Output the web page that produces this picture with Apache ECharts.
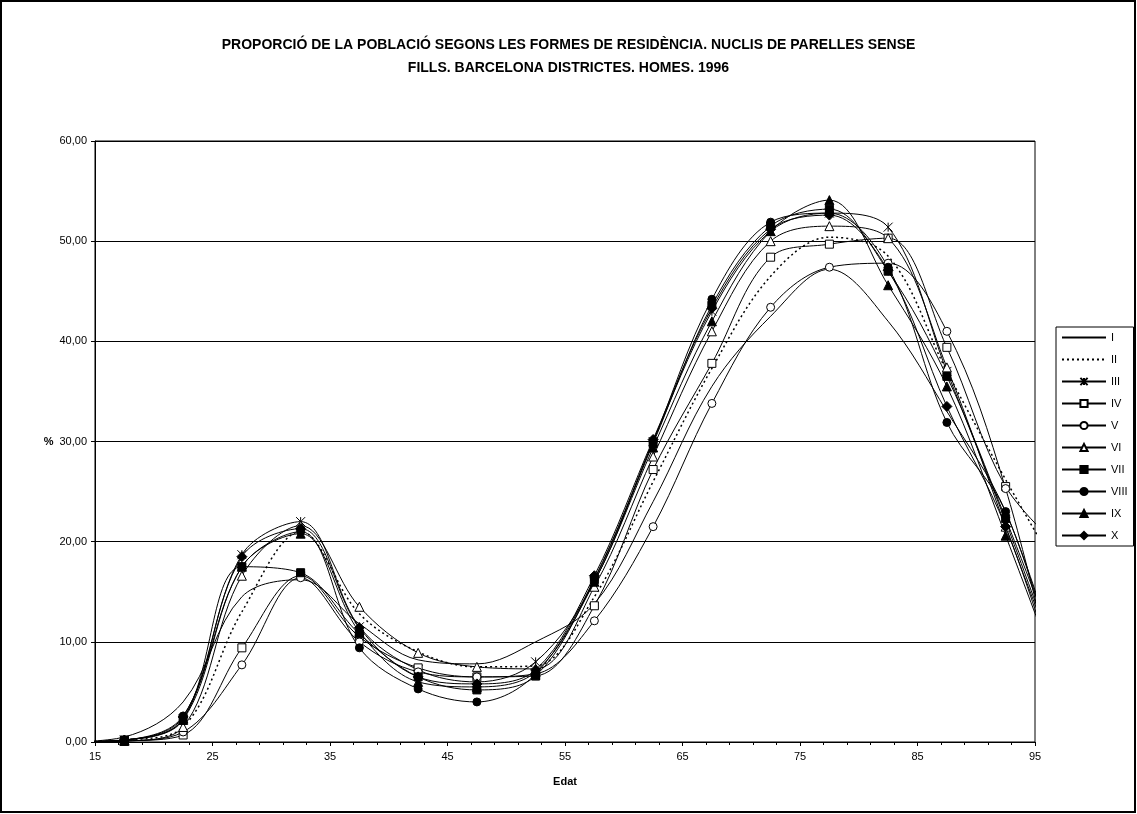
<!DOCTYPE html>
<html>
<head>
<meta charset="utf-8">
<script src="https://cdn.jsdelivr.net/npm/echarts@6/dist/echarts.min.js"></script>
<style>
  html, body { margin: 0; padding: 0; background: #fff; }
  #chart { width: 1137px; height: 814px; }
</style>
</head>
<body>
<div id="chart"></div>
<script>
// edat (punt central del grup quinquennal)
const ages = [12.5, 17.5, 22.5, 27.5, 32.5, 37.5, 42.5, 47.5, 52.5, 57.5, 62.5, 67.5, 72.5, 77.5, 82.5, 87.5, 92.5, 97.5]

const distI    = [0, 0.5, 4.0, 14.5, 16.2, 11.8, 8.2, 7.8, 10.0, 13.8, 24.0, 35.5, 42.5, 47.2, 42.0, 33.0, 23.0, 6]
const distII   = [0, 0.2, 1.5, 13.0, 21.0, 12.8, 9.0, 7.5, 7.6, 14.5, 26.0, 37.3, 46.5, 50.4, 48.5, 37.0, 26.2, 16]
const distIII  = [0, 0.2, 2.3, 18.7, 22.0, 11.5, 7.2, 6.0, 8.0, 16.0, 30.0, 43.0, 51.0, 52.8, 51.4, 37.0, 22.0, 6]
const distIV   = [0, 0.1, 0.7, 9.4, 16.6, 10.5, 7.4, 6.5, 6.6, 13.6, 27.2, 37.8, 48.4, 49.7, 50.3, 39.4, 25.5, 19]
const distV    = [0, 0.1, 1.0, 7.7, 16.4, 10.0, 7.0, 6.5, 6.8, 12.1, 21.5, 33.8, 43.4, 47.4, 47.8, 41.0, 25.3, 2]
const distVI   = [0, 0.1, 1.5, 16.6, 21.6, 13.5, 8.9, 7.5, 7.3, 15.5, 28.5, 41.0, 50.0, 51.5, 50.3, 37.4, 21.5, 6]
const distVII  = [0, 0.2, 2.3, 17.5, 16.9, 10.8, 6.5, 5.2, 6.6, 16.2, 29.8, 43.6, 51.5, 53.2, 47.0, 36.5, 22.3, 7]
const distVIII = [0, 0.2, 2.6, 17.5, 21.0, 9.4, 5.3, 4.0, 6.8, 16.3, 30.0, 44.2, 51.9, 52.8, 47.4, 31.9, 23.0, 5]
const distIX   = [0, 0.2, 2.2, 17.5, 20.8, 11.0, 6.0, 5.5, 7.0, 16.0, 29.4, 42.0, 51.0, 54.1, 45.6, 35.5, 20.6, 5]
const distX    = [0, 0.2, 2.5, 18.5, 21.3, 11.4, 6.5, 5.8, 7.2, 16.6, 30.2, 43.3, 51.2, 52.6, 47.1, 33.5, 21.5, 4]

const asterisk = 'path://M0,0L10,10M10,0L0,10M5,0L5,10'

const font = "'Liberation Sans', Arial, sans-serif"

function pairs(vals) {
  return ages.map((a, i) => [a, vals[i]])
}

function mk(name, vals, symbol, filled, extra) {
  const noMark = symbol === 'none'
  return Object.assign({
    name: name,
    type: 'line',
    data: pairs(vals),
    smooth: 0.35,
    symbol: noMark ? 'circle' : symbol,
    symbolSize: 8,
    showSymbol: !noMark,
    lineStyle: { color: '#000', width: 1 },
    itemStyle: noMark
      ? { color: 'rgba(0,0,0,0)', borderWidth: 0 }
      : { color: filled ? '#000' : '#fff', borderColor: '#000', borderWidth: 1 },
    emphasis: { disabled: true },
  }, extra || {})
}

const chart = echarts.init(document.getElementById('chart'))
chart.setOption({
  animation: false,
  backgroundColor: '#fff',
  title: {
    text: 'PROPORCIÓ DE LA POBLACIÓ SEGONS LES FORMES DE RESIDÈNCIA. NUCLIS DE PARELLES SENSE\nFILLS. BARCELONA DISTRICTES. HOMES. 1996',
    left: 'center',
    top: 29,
    textStyle: { fontFamily: font, fontSize: 14, fontWeight: 'bold', color: '#000', lineHeight: 23 },
  },
  graphic: [{
    type: 'rect',
    shape: { x: 1, y: 1, width: 1134, height: 811 },
    style: { fill: 'none', stroke: '#000', lineWidth: 2 },
    silent: true,
  }],
  legend: {
    orient: 'vertical',
    left: 1056,
    top: 327,
    padding: [5, 6, 5, 5],
    itemWidth: 44,
    itemHeight: 9,
    itemGap: 11,
    borderColor: '#000',
    borderWidth: 1,
    backgroundColor: '#fff',
    textStyle: { fontFamily: font, fontSize: 11, color: '#000' },
    data: ['I', 'II', 'III', 'IV', 'V', 'VI', 'VII', 'VIII', 'IX', 'X'],
  },
  grid: { left: 95, right: 102, top: 141, bottom: 72, show: true, borderColor: '#000', borderWidth: 1 },
  xAxis: {
    type: 'value',
    min: 15,
    max: 95,
    interval: 10,
    name: 'Edat',
    nameLocation: 'middle',
    nameGap: 34,
    nameTextStyle: { fontFamily: font, fontSize: 11, fontWeight: 'bold', color: '#000' },
    axisLine: { show: true, lineStyle: { color: '#000' } },
    axisTick: { show: true, length: 4, lineStyle: { color: '#000' } },
    minorTick: { show: true, splitNumber: 5, length: 3, lineStyle: { color: '#000' } },
    splitLine: { show: false },
    axisLabel: { fontFamily: font, fontSize: 11, color: '#000', margin: 9 },
  },
  yAxis: {
    type: 'value',
    min: 0,
    max: 60,
    interval: 10,
    name: '%',
    nameLocation: 'middle',
    nameRotate: 0,
    nameGap: 36,
    nameTextStyle: { fontFamily: font, fontSize: 11, fontWeight: 'bold', color: '#000' },
    axisLine: { show: true, lineStyle: { color: '#000' } },
    axisTick: { show: true, length: 4, lineStyle: { color: '#000' } },
    splitLine: { show: true, lineStyle: { color: '#000', width: 1 } },
    axisLabel: {
      fontFamily: font, fontSize: 11, color: '#000', margin: 8,
      formatter: v => v.toFixed(2).replace('.', ','),
    },
  },
  series: [
    mk('I', distI, 'none', true),
    mk('II', distII, 'none', true, { lineStyle: { color: '#000', width: 1.5, type: [2, 3] } }),
    mk('III', distIII, asterisk, true, { symbolSize: 9 }),
    mk('IV', distIV, 'rect', false),
    mk('V', distV, 'circle', false),
    mk('VI', distVI, 'triangle', false, { symbolSize: 9 }),
    mk('VII', distVII, 'rect', true),
    mk('VIII', distVIII, 'circle', true),
    mk('IX', distIX, 'triangle', true, { symbolSize: 9 }),
    mk('X', distX, 'diamond', true, { symbolSize: 10 }),
  ],
})
</script>
</body>
</html>
